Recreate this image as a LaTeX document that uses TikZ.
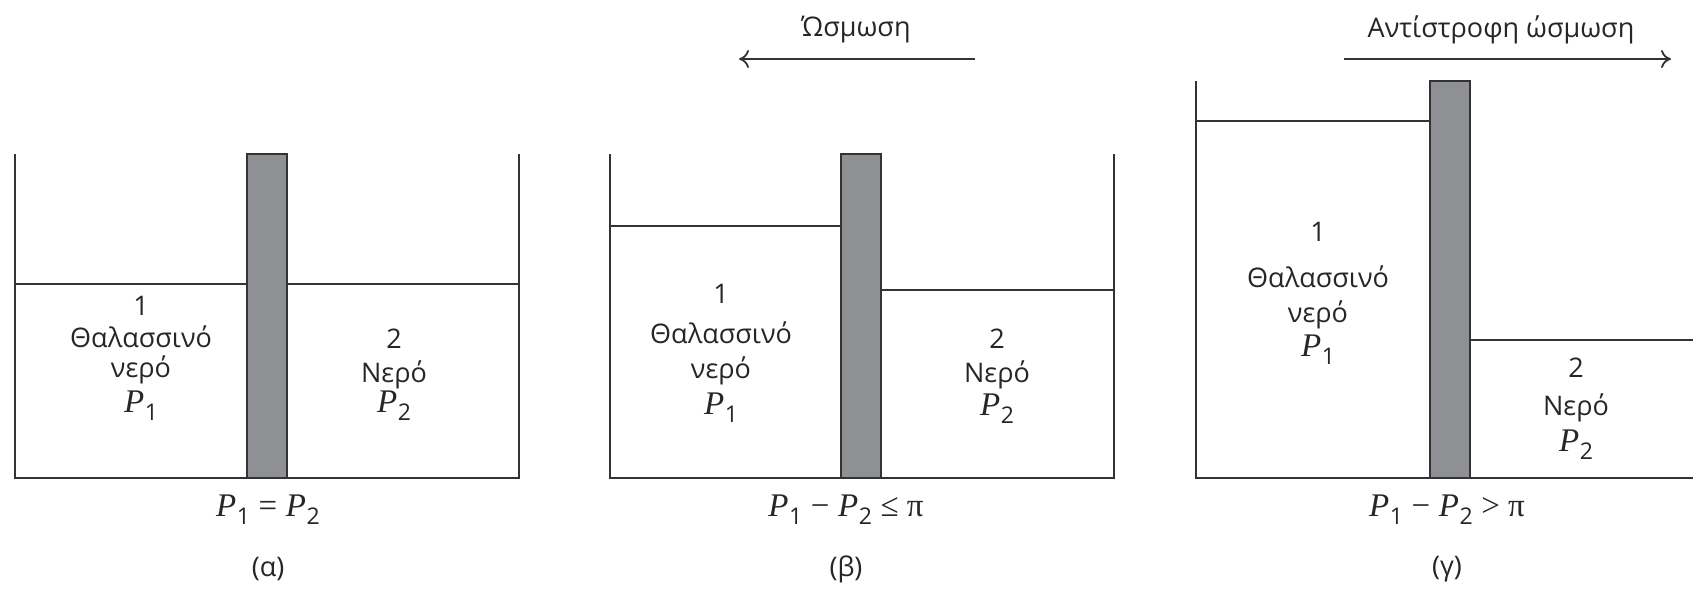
\documentclass[tikz,border=0pt]{standalone}
\usepackage{fontspec}
\setmainfont{Open Sans}
\newfontfamily\tms{Liberation Serif}
\usetikzlibrary{arrows.meta}
\definecolor{linec}{HTML}{333333}
\definecolor{memb}{HTML}{8E9093}
\definecolor{txt}{HTML}{262626}
\newcommand\varP[1]{{\tms\itshape P}\kern0.02em\raisebox{-0.45ex}{\fontsize{23}{23}\selectfont #1}}
\tikzset{
  wall/.style={line width=2.4pt, draw=linec},
  membrane/.style={fill=memb, draw=linec, line width=2.4pt},
  lbl/.style={font=\fontsize{27}{30}\selectfont, text=txt, inner sep=0pt},
  frm/.style={font=\fontsize{33}{36}\selectfont, text=txt, inner sep=0pt},
  flow/.style={line width=2.2pt, draw=linec, -{To[length=10pt,width=18pt,line width=1.8pt]}}
}
\begin{document}
\begin{tikzpicture}[x=1pt,y=-1pt]
\useasboundingbox (0,0) rectangle (1693,592);
% ---------- panel (a)
\draw[wall] (15,154) -- (15,478) -- (519,478) -- (519,154);
\draw[wall] (15,284) -- (247,284);
\draw[wall] (287,284) -- (519,284);
\filldraw[membrane] (247,154) rectangle (287,478);
\node[lbl] (a1) at (141,306) {1};
\node[lbl] (a2) at (141,337) {Θαλασσινό};
\node[lbl] (a3) at (141,370) {νερό};
\node[frm] (a4) at (141,406) {\varP{1}};
\node[lbl] (a5) at (394,339) {2};
\node[lbl] (a6) at (394,375) {Νερό};
\node[frm] (a7) at (394,406) {\varP{2}};
\node[frm] (af) at (268,510) {\varP{1} {\tms =} \varP{2}};
\node[lbl] (ac) at (268,569) {(α)};
% ---------- panel (b)
\draw[wall] (610,154) -- (610,478) -- (1114,478) -- (1114,154);
\draw[wall] (610,226) -- (841,226);
\draw[wall] (881,290) -- (1114,290);
\filldraw[membrane] (841,154) rectangle (881,478);
\node[lbl] (b1) at (721,294) {1};
\node[lbl] (b2) at (721,333) {Θαλασσινό};
\node[lbl] (b3) at (721,371) {νερό};
\node[frm] (b4) at (721,408) {\varP{1}};
\node[lbl] (b5) at (997,339) {2};
\node[lbl] (b6) at (997,375) {Νερό};
\node[frm] (b7) at (997,409) {\varP{2}};
\node[frm] (bf) at (846,510) {\varP{1} {\tms −} \varP{2} {\tms ≤ π}};
\node[lbl] (bc) at (846,569) {(β)};
\coordinate (bs) at (975,59);
\coordinate (be) at (739,59);
\draw[flow] (bs) -- (be);
\node[lbl] (bt) at (856,30) {Ώσμωση};
% ---------- panel (c)
\draw[wall] (1196,81) -- (1196,478) -- (1693,478);
\draw[wall] (1196,121) -- (1430,121);
\draw[wall] (1470,340) -- (1693,340);
\filldraw[membrane] (1430,81) rectangle (1470,478);
\node[lbl] (c1) at (1318,232) {1};
\node[lbl] (c2) at (1318,277) {Θαλασσινό};
\node[lbl] (c3) at (1318,315) {νερό};
\node[frm] (c4) at (1318,350) {\varP{1}};
\node[lbl] (c5) at (1576,368) {2};
\node[lbl] (c6) at (1576,408) {Νερό};
\node[frm] (c7) at (1576,445) {\varP{2}};
\node[frm] (cf) at (1447,510) {\varP{1} {\tms −} \varP{2} {\tms > π}};
\node[lbl] (cc) at (1447,569) {(γ)};
\coordinate (cs) at (1344,59);
\coordinate (ce) at (1671,59);
\draw[flow] (cs) -- (ce);
\node[lbl] (ct) at (1501,30) {Αντίστροφη ώσμωση};
\end{tikzpicture}
\end{document}
